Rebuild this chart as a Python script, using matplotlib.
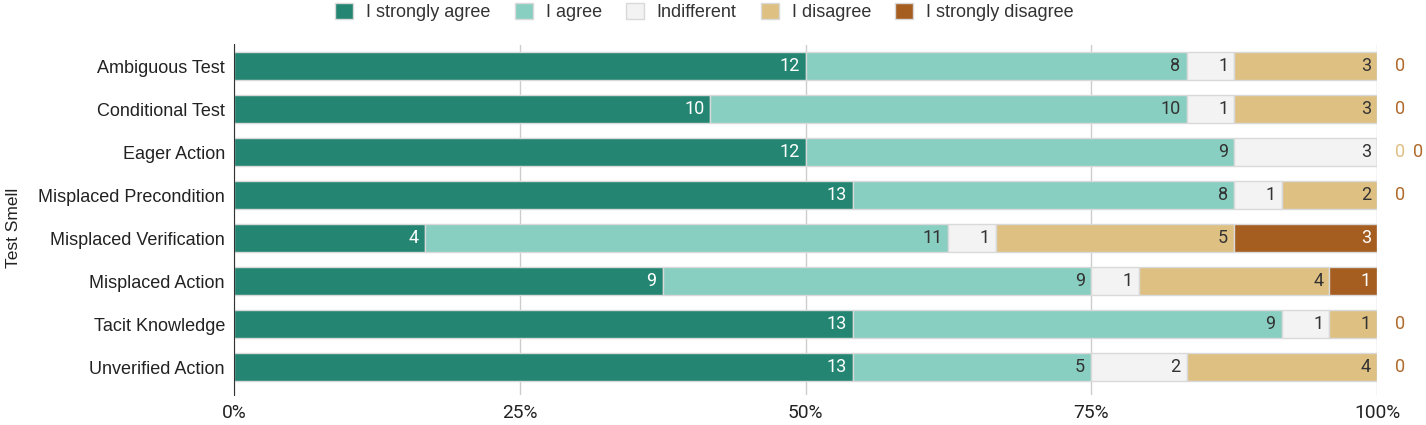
import numpy as np
import matplotlib.pyplot as plt
from matplotlib.ticker import PercentFormatter

plt.rcParams['font.family'] = ['Roboto', 'DejaVu Sans']
arial_like = ["Liberation Sans", "DejaVu Sans"]

smells = ["Ambiguous Test", "Conditional Test", "Eager Action", "Misplaced Precondition",
          "Misplaced Verification", "Misplaced Action", "Tacit Knowledge", "Unverified Action"]
answers = ["I strongly agree", "I agree", "Indifferent", "I disagree", "I strongly disagree"]

strongly_agree = [12, 10, 12, 13, 4, 9, 13, 13]
agree = [8, 10, 9, 8, 11, 9, 9, 5]
indifferent = [1, 1, 3, 1, 1, 1, 1, 2]
disagree = [3, 3, 0, 2, 5, 4, 1, 4]
strongly_disagree = [0, 0, 0, 0, 3, 1, 0, 0]

colors = ["#248672", "#88cfc2", "#f3f3f3", "#dfc083", "#a65d20"]
text_colors = ["white", "#333333", "#333333", "#333333", "white"]
zero_colors = ["#248672", "#88cfc2", "#cccccc", "#dfc083", "#b06a2c"]

counts = np.array([strongly_agree, agree, indifferent, disagree, strongly_disagree], dtype=float)
share = counts / counts.sum(axis=0)
y = np.arange(len(smells))

fig = plt.figure(figsize=(14.26, 4.25), dpi=100)
ax = fig.add_axes([234/1426, 1 - 395/425, (1377 - 234)/1426, (395 - 44.5)/425])

left = np.zeros(len(smells))
n_zero = np.zeros(len(smells))
for k, name in enumerate(answers):
    ax.barh(y, share[k], left=left, height=0.67, color=colors[k],
            edgecolor="#d9d9d9", linewidth=1, label=name, zorder=2)
    for i in range(len(smells)):
        end = left[i] + share[k][i]
        if counts[k][i] > 0:
            ax.annotate(str(int(counts[k][i])), (end, y[i]), xytext=(-6, 0),
                        textcoords="offset pixels", ha="right", va="center",
                        fontsize=13, color=text_colors[k], zorder=3)
        else:
            # zero answers get listed past the end of the bar
            ax.annotate("0", (1.0, y[i]), xytext=(18 + 18 * n_zero[i], 0),
                        textcoords="offset pixels", ha="left", va="center",
                        fontsize=13, color=zero_colors[k], annotation_clip=False)
            n_zero[i] += 1
    left = left + share[k]

ax.set_xlim(0, 1)
ax.set_ylim(7.65, -0.5)
ax.set_yticks(y)
ax.set_yticklabels(smells, fontsize=13, color="#222222", family=arial_like)
ax.set_xticks([0, 0.25, 0.5, 0.75, 1.0])
ax.xaxis.set_major_formatter(PercentFormatter(1.0, decimals=0))
ax.tick_params(axis="x", length=0, labelsize=13.8, labelcolor="#222222", pad=6.5)
ax.tick_params(axis="y", length=0, pad=6.5)
ax.grid(axis="x", color="#cccccc", linewidth=1, zorder=0)
ax.set_axisbelow(True)
for side in ["top", "right", "bottom"]:
    ax.spines[side].set_visible(False)
ax.spines["left"].set_color("#333333")
ax.spines["left"].set_zorder(4)
ax.set_ylabel("Test Smell", fontsize=12.5, color="#222222", family=arial_like)
ax.yaxis.set_label_coords(-0.1864, 0.476)

fig.legend(loc="center", bbox_to_anchor=(0.494, 1 - 12/425), ncol=5, frameon=False,
           prop={"family": arial_like, "size": 13}, handlelength=1.0, handleheight=1.0,
           columnspacing=1.33, handletextpad=0.72, labelcolor="#333333")

fig.savefig("out.png", dpi=100)
